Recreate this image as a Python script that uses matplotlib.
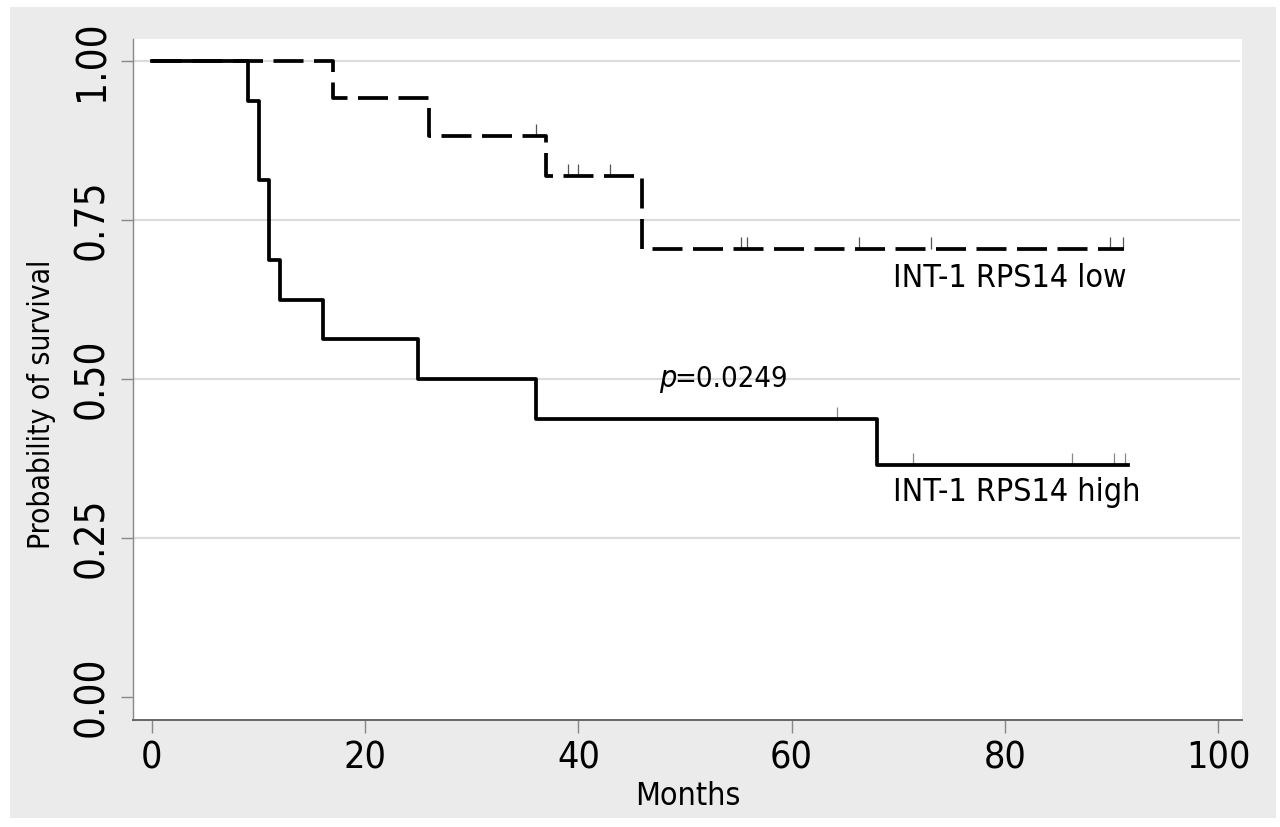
import matplotlib

matplotlib.use("Agg")
import matplotlib.pyplot as plt
from matplotlib.patches import Rectangle

plt.rcParams["font.family"] = ["Liberation Sans Narrow", "DejaVu Sans"]
plt.rcParams["font.stretch"] = "condensed"

# Kaplan-Meier steps (months, survival after the step)
HIGH_T = [0, 9, 10, 11, 12, 16, 25, 36, 68, 91.6]
HIGH_S = [1.0, 0.9375, 0.8125, 0.6875, 0.625, 0.5625, 0.5, 0.4375, 0.3646, 0.3646]
HIGH_CENS_T = [64.3, 71.4, 86.3, 90.2, 91.3]
HIGH_CENS_S = [0.4375, 0.3646, 0.3646, 0.3646, 0.3646]

LOW_T = [0, 17, 26, 37, 46, 91.2]
LOW_S = [1.0, 0.9412, 0.8824, 0.8193, 0.705, 0.705]
LOW_CENS_T = [36, 39, 40, 43, 55.3, 55.8, 66.3, 73.1, 89.9, 91.1]
LOW_CENS_S = [0.8824, 0.8193, 0.8193, 0.8193, 0.705, 0.705, 0.705, 0.705, 0.705, 0.705]

X_TICKS = [0, 20, 40, 60, 80, 100]
Y_TICKS = [0.0, 0.25, 0.5, 0.75, 1.0]
Y_TICK_LABELS = ["0.00", "0.25", "0.50", "0.75", "1.00"]

fig = plt.figure(figsize=(12.8, 8.27), dpi=100)
fig.patch.set_facecolor("white")
bg = Rectangle((10 / 1280, 1 - 818 / 827), 1266 / 1280, 811 / 827,
               transform=fig.transFigure, facecolor="#ebebeb",
               edgecolor="none", zorder=-10)
fig.add_artist(bg)

ax = fig.add_axes([133 / 1280, 1 - 720 / 827, 1109 / 1280, 681 / 827])
ax.set_facecolor("white")

for y in Y_TICKS[1:]:
    ax.axhline(y, xmin=0, xmax=0.997, color="#dcdcdc", lw=1.6, zorder=1)

ax.step(LOW_T, LOW_S, where="post", color="black", lw=2.7,
        dashes=(8.0, 2.8), zorder=3)
ax.step(HIGH_T, HIGH_S, where="post", color="black", lw=2.7, zorder=4)

# censoring marks: short thin ticks rising from the curve
tick_h = 0.019
ax.vlines(LOW_CENS_T, LOW_CENS_S, [s + tick_h for s in LOW_CENS_S],
          color="#555555", lw=0.9, zorder=2)
ax.vlines(HIGH_CENS_T, HIGH_CENS_S, [s + tick_h for s in HIGH_CENS_S],
          color="#888888", lw=0.9, zorder=2)

ax.text(69.5, 0.645, "INT-1 RPS14 low", fontsize=23, va="baseline")
ax.text(69.5, 0.3087, "INT-1 RPS14 high", fontsize=23, va="baseline")
ax.text(47.6, 0.488, "p", fontsize=22, style="italic", va="baseline")
ax.text(49.0, 0.488, "=0.0249", fontsize=21, va="baseline")

ax.set_xlim(-1.78, 102.25)
ax.set_ylim(-0.036, 1.0346)
ax.set_xticks(X_TICKS)
ax.set_xticklabels([str(t) for t in X_TICKS], fontsize=27)
ax.set_yticks(Y_TICKS)
ax.set_yticklabels(Y_TICK_LABELS, fontsize=29, rotation=90, va="center")
ax.tick_params(direction="out", length=9, width=1, color="#888888", pad=6)

ax.set_xlabel("Months", fontsize=23, labelpad=3)
ax.set_ylabel("Probability of survival", fontsize=21.5)
ax.yaxis.set_label_coords(-0.069, 0.463)

for side in ("top", "right"):
    ax.spines[side].set_visible(False)
ax.spines["left"].set_color("#888888")
ax.spines["left"].set_linewidth(1.0)
ax.spines["bottom"].set_color("#666666")
ax.spines["bottom"].set_linewidth(1.4)

fig.savefig("out.png", dpi=100)
